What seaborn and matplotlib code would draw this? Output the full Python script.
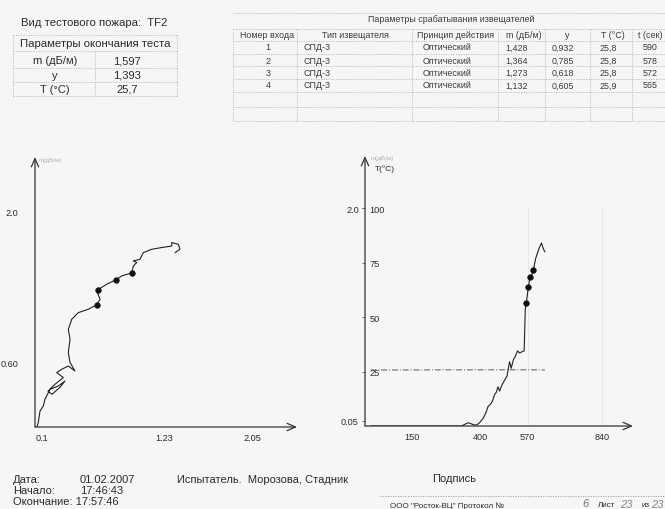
import numpy as np
import pandas as pd
import matplotlib
matplotlib.use("Agg")
import matplotlib.pyplot as plt
from matplotlib.lines import Line2D
import seaborn as sns

# ---------------- data ----------------
fire_type = "TF2"
end_labels = ["m (дБ/м)", "y", "T (°C)"]
end_values = ["1,597", "1,393", "25,7"]

table_headers = ["Номер входа", "Тип извещателя", "Принцип действия", "m (дБ/м)", "y", "T (°C)", "t (сек)"]
det_input = [1, 2, 3, 4]
det_type = ["СПД-3", "СПД-3", "СПД-3", "СПД-3"]
det_principle = ["Оптический", "Оптический", "Оптический", "Оптический"]
det_m = [1.428, 1.364, 1.273, 1.132]
det_y = [0.932, 0.785, 0.618, 0.605]
det_T = [25.8, 25.8, 25.8, 25.9]
det_t = [590, 578, 572, 565]

# left chart: m (dB/m) versus y, trajectory during the test
traj_y = [0.05, 0.063, 0.079, 0.110, 0.125, 0.172, 0.249, 0.311, 0.265, 0.19, 0.153, 0.218,
          0.296, 0.234, 0.281, 0.342, 0.404, 0.358, 0.342, 0.358, 0.342, 0.374, 0.435, 0.528,
          0.605, 0.637, 0.606, 0.618, 0.699, 0.785, 0.838, 0.932, 0.946, 0.978, 0.946, 1.008,
          1.039, 1.117, 1.21, 1.303, 1.303, 1.364, 1.38, 1.334]
traj_m = [0.0, 0.041, 0.148, 0.195, 0.257, 0.349, 0.38, 0.426, 0.368, 0.303, 0.331, 0.396,
          0.458, 0.504, 0.535, 0.565, 0.519, 0.597, 0.69, 0.813, 0.905, 0.998, 1.06, 1.091,
          1.132, 1.184, 1.26, 1.273, 1.323, 1.364, 1.40, 1.428, 1.492, 1.524, 1.539, 1.554,
          1.616, 1.647, 1.663, 1.677, 1.709, 1.693, 1.647, 1.616]

# right chart: m (dB/m) and T versus time
time_s = [0, 330, 345, 355, 365, 375, 385, 395, 408, 418, 426, 435, 442, 450, 456, 462, 468,
          475, 486, 495, 504, 510, 518, 525, 533, 540, 548, 557, 561, 565, 572, 578, 585, 590,
          599, 611, 620, 626, 632]
m_time = [0.0, 0.0, 0.02, 0.03, 0.02, 0.01, 0.01, 0.03, 0.07, 0.12, 0.18, 0.20, 0.23, 0.29,
          0.31, 0.36, 0.32, 0.37, 0.42, 0.46, 0.59, 0.53, 0.61, 0.64, 0.69, 0.67, 0.68, 0.69,
          1.07, 1.132, 1.273, 1.364, 1.39, 1.428, 1.54, 1.63, 1.68, 1.63, 1.597]
temp_time = [0, 560, 632]
temp_vals = [25.7, 25.8, 25.7]

left_xticks = [0.1, 1.23, 2.05]
left_yticks = [0.60, 2.0]
left_yticklabels = ["0.60", "2.0"]
right_xticks = [150, 400, 570, 840]
right_mticks = [0.05, 2.0]
right_mticklabels = ["0.05", "2.0"]
right_Tticks = [25, 50, 75, 100]

test_date = "01.02.2007"
t_start = "17:46:43"
t_end = "17:57:46"
testers = "Морозова, Стадник"

# ---------------- style ----------------
sns.set_theme(style="white")
plt.rcParams["font.family"] = ["Liberation Sans", "DejaVu Sans"]
BG = "#f6f6f4"
INK = "#2b2b2b"
GRID = "#b8b8b8"
TICK_FS = 6.6

W, H = 665, 510
fig = plt.figure(figsize=(6.65, 5.1), dpi=100, facecolor=BG)


def ftext(px, py, s, **kw):
    kw.setdefault("color", INK)
    kw.setdefault("va", "center")
    fig.text(px / W, 1 - py / H, s, **kw)


def fline(x0, y0, x1, y1, **kw):
    kw.setdefault("color", GRID)
    kw.setdefault("lw", 0.6)
    kw.setdefault("ls", (0, (1.5, 1.5)))
    fig.add_artist(Line2D([x0 / W, x1 / W], [1 - y0 / H, 1 - y1 / H],
                          transform=fig.transFigure, **kw))


def axes_px(x0, y0, x1, y1):
    return [x0 / W, 1 - y1 / H, (x1 - x0) / W, (y1 - y0) / H]


# ---------------- top-left block ----------------
ftext(21, 23, "Вид тестового пожара:  " + fire_type, fontsize=8.2, ha="left")
for yy in [36, 52, 69, 83, 97]:
    fline(13, yy, 177, yy)
for xx in [13, 177]:
    fline(xx, 36, xx, 97)
fline(95, 52, 95, 97)
ftext(95, 44, "Параметры окончания теста", fontsize=8.2, ha="center")
for lab, val, yy in zip(end_labels, end_values, [61, 76, 90]):
    ftext(55, yy, lab, fontsize=8, ha="center")
    ftext(127, yy, val, fontsize=8, ha="center")

# ---------------- top-right table ----------------
ftext(451, 20, "Параметры срабатывания извещателей", fontsize=6.4, ha="center", color="#3a3a3a")
for yy in [14, 30, 42, 55, 67, 80, 93, 108, 122]:
    fline(233, yy, 665, yy)
for xx in [233, 297, 412, 498, 545, 590, 632]:
    fline(xx, 30, xx, 122)
hdr_x = [267, 355, 456, 524, 567, 613, 650]
for hx, h in zip(hdr_x, table_headers):
    ftext(hx, 36, h, fontsize=6.4, ha="center", color="#3a3a3a")
row_y = [48, 61, 73.5, 86]
for i, ry in enumerate(row_y):
    ftext(268, ry, str(det_input[i]), fontsize=6.4, ha="center", color="#3a3a3a")
    ftext(303, ry, det_type[i], fontsize=6.4, ha="left", color="#3a3a3a")
    ftext(447, ry, det_principle[i], fontsize=6.4, ha="center", color="#3a3a3a")
    ftext(517, ry, f"{det_m[i]:.3f}".replace(".", ","), fontsize=6.4, ha="center", color="#3a3a3a")
    ftext(563, ry, f"{det_y[i]:.3f}".replace(".", ","), fontsize=6.4, ha="center", color="#3a3a3a")
    ftext(608, ry, f"{det_T[i]:.1f}".replace(".", ","), fontsize=6.4, ha="center", color="#3a3a3a")
    ftext(650, ry, str(det_t[i]), fontsize=6.4, ha="center", color="#3a3a3a")

# ---------------- left chart ----------------
ax1 = fig.add_axes(axes_px(35, 158, 297, 428))
ax1.set_facecolor("none")
traj = pd.DataFrame({"y": traj_y, "m": traj_m})
sns.lineplot(data=traj, x="y", y="m", sort=False, estimator=None, ax=ax1,
             color="#222222", lw=0.8)
dets = pd.DataFrame({"y": det_y, "m": det_m, "t": det_t})
sns.scatterplot(data=dets, x="y", y="m", ax=ax1, color="#111111", s=16,
                edgecolor="#111111", linewidth=0.5, zorder=5)
ax1.set_xlim(0.0325, 2.467)
ax1.set_ylim(0, 2.502)
ax1.set_xticks(left_xticks)
ax1.set_xticklabels([str(v) for v in left_xticks])
ax1.set_yticks(left_yticks)
ax1.set_yticklabels(left_yticklabels)
ax1.tick_params(axis="x", length=0, pad=4, labelsize=TICK_FS, labelcolor=INK)
ax1.tick_params(axis="y", length=0, pad=12, labelsize=TICK_FS, labelcolor=INK)
ax1.set_xlabel("")
ax1.set_ylabel("")
for sp in ax1.spines.values():
    sp.set_visible(False)
arrow = dict(arrowstyle="->,head_length=0.5,head_width=0.22", lw=0.9, color="#333333",
             shrinkA=0, shrinkB=0)
ax1.annotate("", xy=(1, 0), xytext=(0, 0), xycoords="axes fraction", arrowprops=arrow)
ax1.annotate("", xy=(0, 1), xytext=(0, 0), xycoords="axes fraction", arrowprops=arrow)
ax1.text(0.015, 0.99, "m(дБ/м)", transform=ax1.transAxes, fontsize=4.5, color="#b0b0b0",
         ha="left", va="center")

# ---------------- right chart ----------------
ax2 = fig.add_axes(axes_px(365, 157, 633, 427))
ax2.set_facecolor("none")
curve = pd.DataFrame({"t": time_s, "m": m_time})
ax2.vlines([right_xticks[2], right_xticks[3]], 0, 2.0, colors="#cfcfcf", lw=0.6,
           linestyles=(0, (1, 1.5)))
sns.lineplot(data=curve, x="t", y="m", estimator=None, ax=ax2, color="#222222", lw=0.8)
sns.scatterplot(data=dets, x="t", y="m", ax=ax2, color="#111111", s=16,
                edgecolor="#111111", linewidth=0.5, zorder=5)
ax2.set_xlim(-20.7, 952)
ax2.set_ylim(0, 2.478)
ax2.set_xticks(right_xticks)
ax2.set_xticklabels([str(v) for v in right_xticks])
ax2.set_yticks(right_mticks)
ax2.set_yticklabels(right_mticklabels)
ax2.tick_params(axis="x", length=0, pad=4, labelsize=TICK_FS, labelcolor=INK)
ax2.tick_params(axis="y", length=2.5, width=0.6, color="#555555", direction="out", pad=2,
                labelsize=TICK_FS, labelcolor=INK)
ax2.set_xlabel("")
ax2.set_ylabel("")
for sp in ax2.spines.values():
    sp.set_visible(False)
ax2.annotate("", xy=(1, 0), xytext=(0, 0), xycoords="axes fraction", arrowprops=arrow)
ax2.annotate("", xy=(0, 1), xytext=(0, 0), xycoords="axes fraction", arrowprops=arrow)

axT = ax2.twinx()
axT.set_facecolor("none")
temps = pd.DataFrame({"t": temp_time, "T": temp_vals})
sns.lineplot(data=temps, x="t", y="T", estimator=None, ax=axT, color="#555555", lw=0.7,
             linestyle=(0, (6, 2, 1, 2)))
axT.set_xlim(-20.7, 952)
axT.set_ylim(0, 123.9)
axT.set_ylabel("")
for sp in axT.spines.values():
    sp.set_visible(False)
axT.spines["right"].set_position(("axes", 0))
axT.set_yticks(right_Tticks)
axT.set_yticklabels([str(v) for v in right_Tticks])
axT.tick_params(axis="y", direction="in", length=2.5, width=0.6, color="#555555", pad=3,
                labelsize=TICK_FS, labelcolor=INK)
ax2.text(0.02, 0.995, "m(дБ/м)", transform=ax2.transAxes, fontsize=4.5, color="#b0b0b0",
         ha="left", va="center")
ax2.text(0.035, 0.955, "T(°C)", transform=ax2.transAxes, fontsize=6, color=INK,
         ha="left", va="center")

# ---------------- footer ----------------
ftext(13, 480, "Дата:", fontsize=8, ha="left")
ftext(80, 480, test_date, fontsize=8, ha="left")
ftext(177, 480, "Испытатель.  " + testers, fontsize=8, ha="left")
ftext(13, 491, "Начало:", fontsize=8, ha="left")
ftext(80, 491, t_start, fontsize=8, ha="left")
ftext(13, 502, "Окончание: " + t_end, fontsize=8, ha="left")
ftext(432, 479, "Подпись", fontsize=8, ha="left")
fline(380, 497, 665, 497, color="#9a9a9a")
ftext(390, 506, "ООО \"Росток-ВЦ\" Протокол №", fontsize=5.8, ha="left")
ftext(582, 504, "6", fontsize=8, ha="left", color="#777777", style="italic")
ftext(598, 506, "Лист", fontsize=5.8, ha="left")
ftext(620, 505, "23", fontsize=8, ha="left", color="#888888", style="italic")
ftext(641, 506, "из", fontsize=5.8, ha="left")
ftext(651, 505, "23", fontsize=8, ha="left", color="#888888", style="italic")

fig.savefig("out.png", dpi=100, facecolor=BG)
